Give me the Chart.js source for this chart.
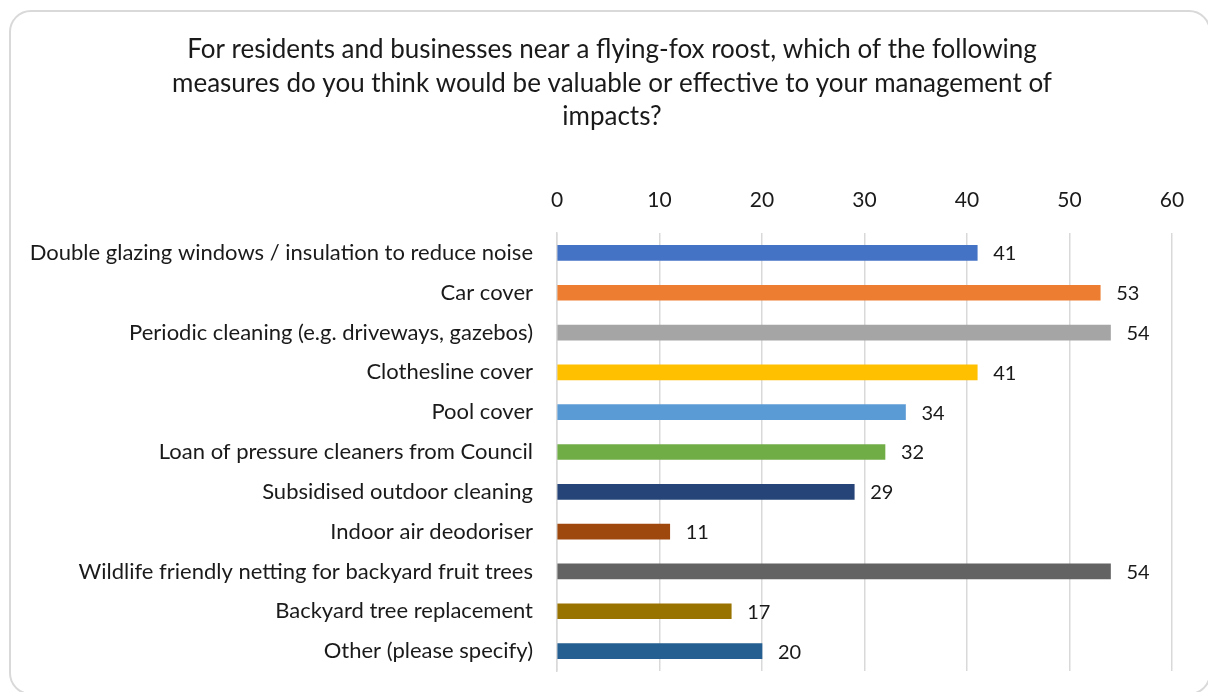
<!DOCTYPE html>
<html>
<head>
<meta charset="utf-8">
<script src="https://cdn.jsdelivr.net/npm/chart.js@4.4.1/dist/chart.umd.min.js"></script>
<style>
  html, body { margin: 0; padding: 0; background: #ffffff; overflow: hidden; }
  #wrap { position: relative; width: 1208px; height: 692px; overflow: hidden; }
  #frame {
    position: absolute; left: 9px; top: 10px; width: 1202px; height: 685px;
    border: 2px solid #d9d9d9; border-radius: 22px; box-sizing: border-box;
  }
  canvas { position: absolute; left: 0; top: 0; }
</style>
</head>
<body>
<div id="wrap">
  <div id="frame"></div>
  <canvas id="chart" width="1208" height="692"></canvas>
</div>
<script>
// Survey answers: number of respondents choosing each measure
const categories = [
  'Double glazing windows / insulation to reduce noise',
  'Car cover',
  'Periodic cleaning (e.g. driveways, gazebos)',
  'Clothesline cover',
  'Pool cover',
  'Loan of pressure cleaners from Council',
  'Subsidised outdoor cleaning',
  'Indoor air deodoriser',
  'Wildlife friendly netting for backyard fruit trees',
  'Backyard tree replacement',
  'Other (please specify)'
];
const responses = [41, 53, 54, 41, 34, 32, 29, 11, 54, 17, 20];
const barColors = [
  '#4472C4', '#ED7D31', '#A5A5A5', '#FFC000', '#5B9BD5', '#70AD47',
  '#264478', '#9E480E', '#636363', '#997300', '#255E91'
];
const titleLines = [
  'For residents and businesses near a flying-fox roost, which of the following',
  'measures do you think would be valuable or effective to your management of',
  'impacts?'
];
const xTicks = { min: 0, max: 60, step: 10 };

const FONT = 'Lato, "Open Sans", "Liberation Sans", sans-serif';
const TEXT = '#1a1a1a';

// Three-line heading, centred over the framed panel
const panelTitle = {
  id: 'panelTitle',
  afterDraw(chart) {
    const ctx = chart.ctx;
    ctx.save();
    ctx.font = '26px ' + FONT;
    ctx.fillStyle = TEXT;
    ctx.textAlign = 'center';
    ctx.textBaseline = 'middle';
    titleLines.forEach((line, i) => ctx.fillText(line, 612, 50 + i * 33.5));
    ctx.restore();
  }
};

// Writes each bar's value just past its end
const valueLabels = {
  id: 'valueLabels',
  afterDatasetsDraw(chart) {
    const ctx = chart.ctx;
    const meta = chart.getDatasetMeta(0);
    ctx.save();
    ctx.font = '20px ' + FONT;
    ctx.fillStyle = TEXT;
    ctx.textAlign = 'left';
    ctx.textBaseline = 'middle';
    meta.data.forEach((bar, i) => {
      ctx.fillText(String(chart.data.datasets[0].data[i]), bar.x + 16, bar.y + 1);
    });
    ctx.restore();
  }
};

new Chart(document.getElementById('chart'), {
  type: 'bar',
  data: {
    labels: categories,
    datasets: [{
      data: responses,
      backgroundColor: barColors,
      borderWidth: 0,
      barThickness: 15
    }]
  },
  options: {
    indexAxis: 'y',
    responsive: false,
    animation: false,
    layout: { padding: { left: 0, right: 36, top: 171, bottom: 21 } },
    plugins: {
      legend: { display: false },
      tooltip: { enabled: false },
      title: { display: false }
    },
    scales: {
      x: {
        position: 'top',
        min: xTicks.min,
        max: xTicks.max,
        ticks: {
          stepSize: xTicks.step,
          color: TEXT,
          font: { family: FONT, size: 21 },
          padding: 20
        },
        grid: { color: '#d9d9d9', lineWidth: 1.5, drawTicks: false },
        border: { display: false },
        afterFit(scale) { scale.height = 62; }
      },
      y: {
        ticks: {
          color: TEXT,
          font: { family: FONT, size: 22 },
          padding: 0
        },
        grid: { display: true, color: 'rgba(0,0,0,0)', drawTicks: true, tickLength: 24 },
        border: { display: true, color: '#d9d9d9', width: 1.5 },
        afterFit(scale) { scale.width = 557; }
      }
    }
  },
  plugins: [valueLabels, panelTitle]
});
</script>
</body>
</html>
